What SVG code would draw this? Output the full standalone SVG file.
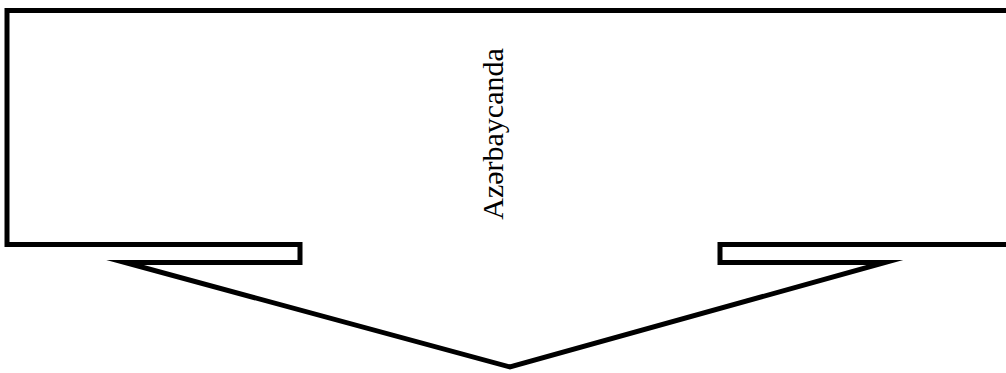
<svg xmlns="http://www.w3.org/2000/svg" width="1006" height="373" viewBox="0 0 1006 373">
<style>
.shape{fill:#ffffff;stroke:#000000;stroke-width:5;stroke-linejoin:miter;stroke-miterlimit:10}
.lbl{font-family:"Liberation Serif","Times New Roman",serif;font-size:30px;fill:#000000}
</style>
<rect width="1006" height="373" fill="#ffffff"/>
<g id="arrow-callout">
<polygon class="shape" points="7,10.5 1013,10.5 1013,244.5 720,244.5 720,262.5 885,262.5 510,367 125,262.5 300,262.5 300,244.5 7,244.5"/>
<text class="lbl" transform="translate(503,134) rotate(-90)" text-anchor="middle">Azərbaycanda</text>
</g>
<g id="connectors"></g>
</svg>
